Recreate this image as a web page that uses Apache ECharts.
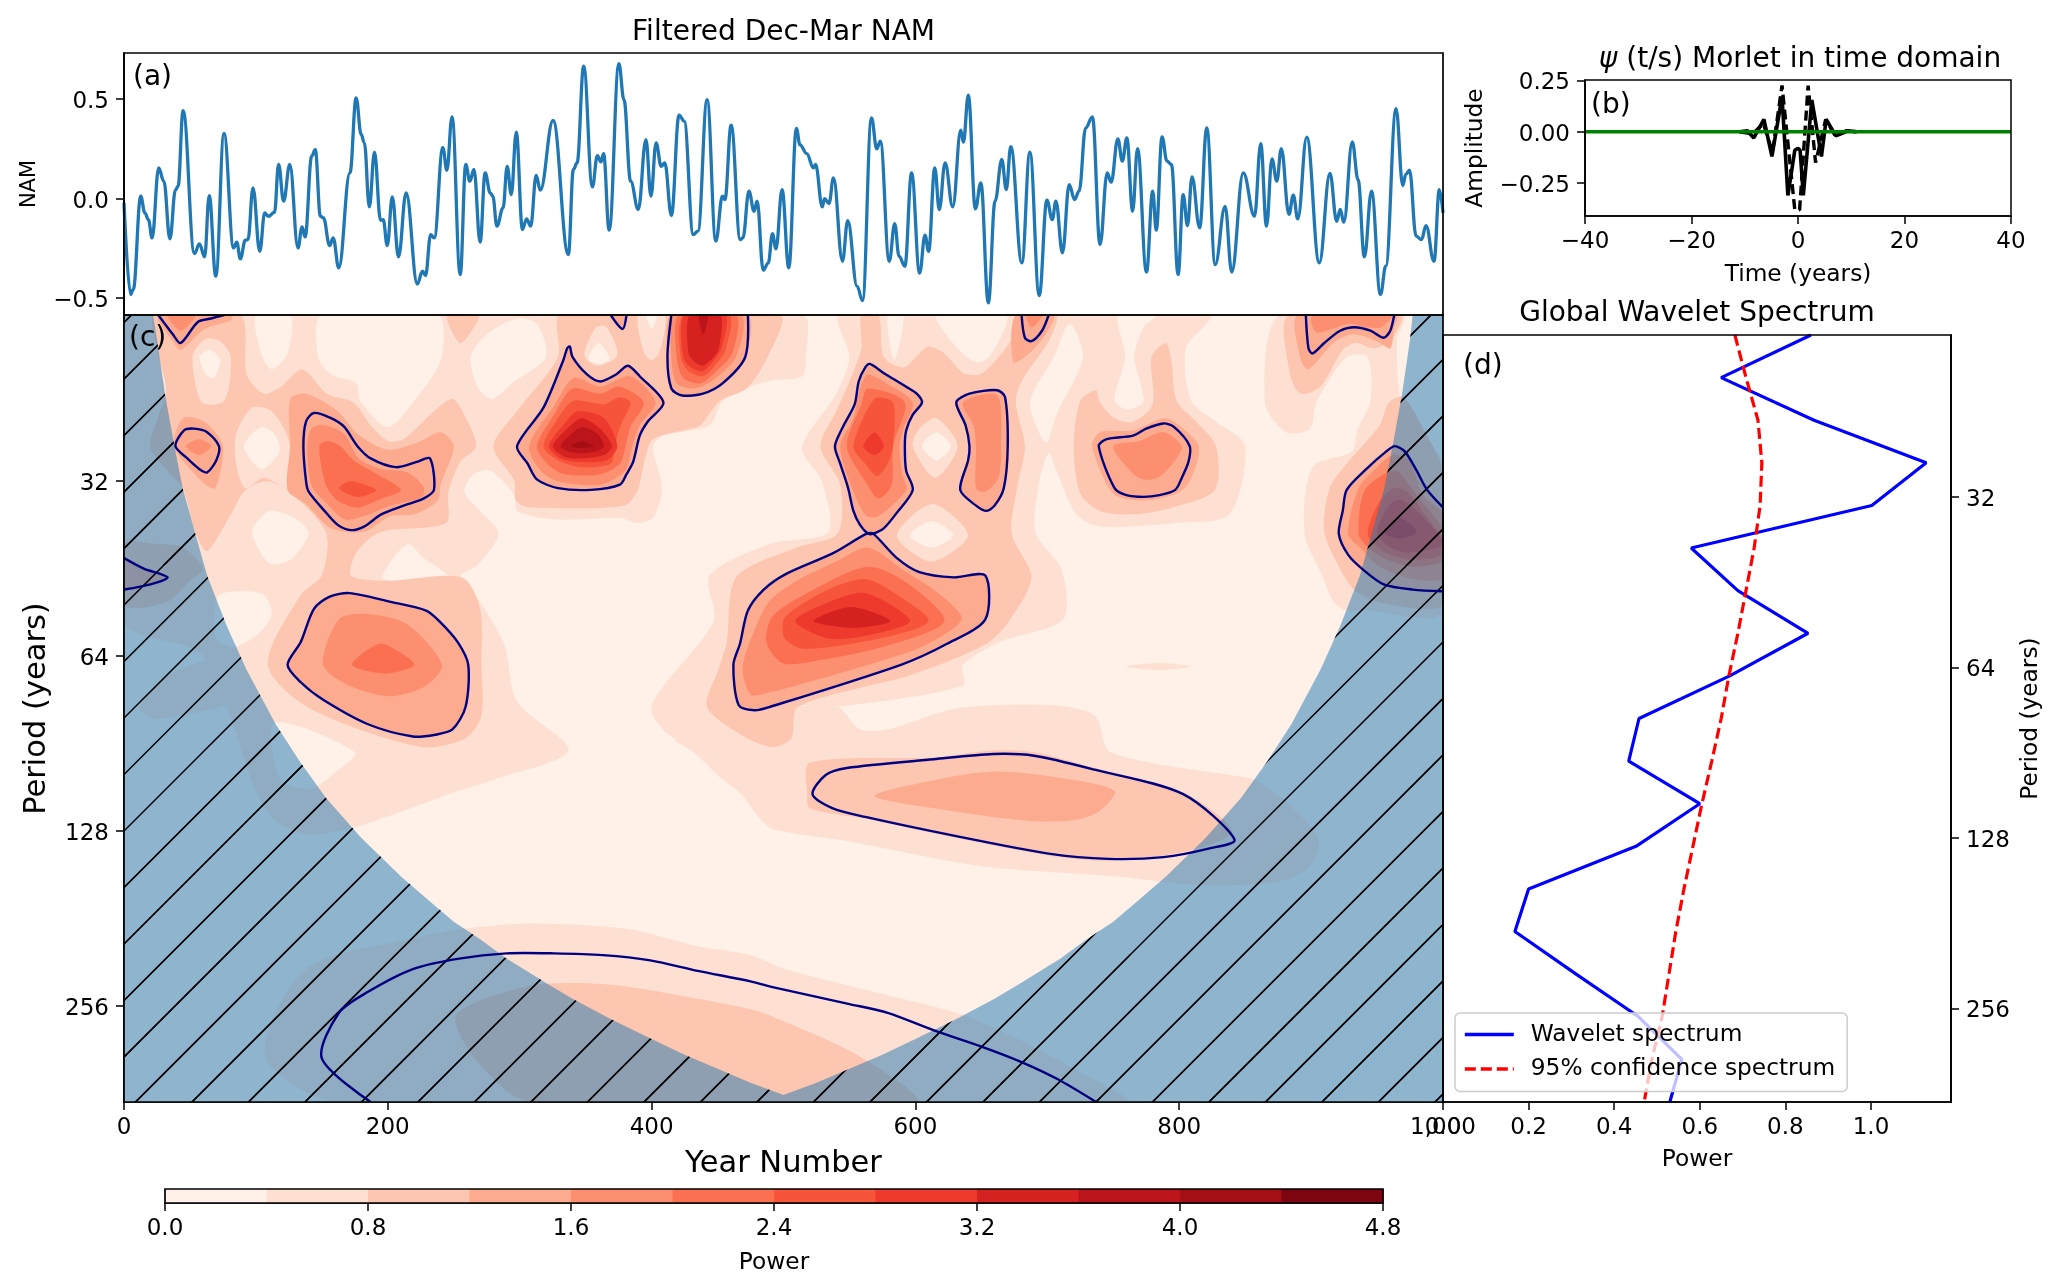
<!DOCTYPE html>
<html>
<head>
<meta charset="utf-8">
<style>html,body{margin:0;padding:0;background:#fff}#c{width:2067px;height:1288px}</style>
<script src="https://cdn.jsdelivr.net/npm/echarts@6/dist/echarts.min.js"></script>
</head>
<body>
<div id="c"></div>
<script>
// ---------- (a) filtered NAM: [year, value]
const namSeries = [[0,-.022],[5,-.482],[7,-.457],[12.7,.012],[15.8,-.072],[18.5,-.106],[21.3,-.198],[26.3,.154],[30.2,.087],[34.8,-.203],[39,.042],[41,.062],[44.8,.442],[53.4,-.276],[57.2,-.228],[61.1,-.293],[64.6,.015],[69.6,-.39],[75.8,.327],[83.1,-.248],[85.5,-.219],[88.2,-.303],[92,-.209],[94,-.206],[97.8,.054],[102.9,-.265],[106.7,-.072],[109.4,-.089],[114.1,-.069],[117.2,.171],[121,-.013],[125.7,.171],[131.9,-.248],[135,-.142],[137.3,-.193],[142.3,.213],[145,.246],[148.9,-.089],[151.2,-.097],[155.9,-.236],[158.6,-.198],[162.8,-.348],[171.3,.129],[176,.506],[179.8,.322],[182.2,.28],[186,-.042],[189.9,.233],[194.5,-.109],[196.5,-.106],[199.6,-.236],[203.4,.008],[208.1,-.293],[213.9,.028],[222.4,-.429],[226.3,-.365],[228.6,-.387],[232.5,-.181],[235.2,-.198],[241.7,.255],[244.8,.142],[248.7,.41],[254.9,-.382],[259.1,.171],[262.2,.087],[265.3,.146],[270,-.219],[273.8,.129],[277.7,.028],[279.6,.012],[282.7,-.139],[287.4,-.047],[290.5,.162],[293.6,.02],[297.4,.333],[302.1,-.156],[305.2,-.102],[308.3,-.139],[312.5,.116],[315.6,.042],[325.3,.392],[336.9,-.281],[340.7,.146],[343.5,.179],[348.5,.665],[355.1,.059],[358.9,.216],[361.6,.184],[363.6,.226],[367.8,-.159],[375.2,.677],[379,.497],[384.1,.087],[389.9,-.055],[395.7,.296],[399.5,.012],[403.4,.28],[407.3,.162],[410,.179],[415,-.085],[420.8,.419],[424.7,.389],[431.6,-.181],[435.1,-.164],[442.1,.497],[448.7,-.214],[453.7,.012],[455.6,-.005],[460.3,.369],[467.2,-.206],[469.2,-.198],[473.8,.037],[477.7,-.064],[480,-.013],[484.6,-.36],[488.5,-.323],[491.6,-.176],[494.3,-.253],[498.9,.045],[504,-.348],[509.8,.352],[512.5,.27],[517.6,.226],[522.7,.154],[524.3,.171],[529.4,-.042],[531.1,0],[534.5,-.025],[537.9,.104],[544.7,-.315],[548.7,-.111],[555.8,-.441],[559.9,-.513],[566.7,.405],[570.7,.25],[573.4,.288],[580.2,-.315],[584.3,-.126],[587.6,-.29],[592,-.34],[597.1,.129],[603.2,-.374],[607.3,-.184],[610,-.265],[614.7,.154],[618.1,-.055],[622.5,.179],[628.3,-.042],[634.4,.343],[636.4,.283],[640.1,.519],[645.5,-.052],[649.6,.079],[655.3,-.524],[660.4,-.013],[665.5,.196],[668.9,.045],[672.3,.26],[680.7,-.323],[686.8,.233],[693.9,-.487],[699.7,-.008],[703.8,-.106],[706.5,-.013],[711.5,-.273],[716.6,.07],[720.7,-.005],[724.1,.037],[729.1,.355],[734.2,.41],[740,-.231],[745.4,.129],[748.4,.082],[753.5,.3],[756.9,.188],[760.3,.305],[764.7,-.064],[768.4,.25],[775.2,-.369],[779.9,.037],[782.6,-.159],[787,.31],[790.7,.188],[794.1,.171],[799.2,-.382],[803,.02],[806.3,-.136],[809.7,.109],[815.5,-.147],[820.9,.355],[827.3,-.332],[834.8,-.039],[839.8,-.369],[848.6,.129],[857.1,-.089],[861.8,.276],[866.2,-.139],[870.3,.199],[874,.087],[877.4,.251],[883.2,-.08],[886.5,.017],[889.9,-.102],[896.7,.308],[906.2,-.323],[914.3,.126],[919.4,-.114],[922.1,-.055],[924.8,-.119],[931.2,.285],[935.6,.095],[940.4,-.293],[945.8,.037],[952.6,-.482],[956.6,-.34],[964.4,.452],[969.5,.065],[971.8,.121],[974.6,.142],[979.6,-.189],[983.7,-.206],[987.1,-.136],[993.2,-.315],[997.2,.045],[1000,-.072]];

// ---------- (b) Morlet wavelet: [time, amplitude]
const morletReal = [[-11,0],[-9.5,.005],[-8.3,-.03],[-6.4,.06],[-4.9,-.12],[-3,.17],[-1.9,-.31],[-.6,-.09],[0,-.08],[.4,-.09],[1,-.31],[2.6,.155],[4.4,-.12],[5.3,.06],[7.1,-.02],[9.4,.005],[11,0]];
const morletImag = [[-11,0],[-8.5,-.01],[-6.5,.04],[-4.8,-.1],[-3,.225],[-.6,-.38],[.3,-.38],[1.9,.225],[3.3,-.15],[5.2,.06],[7,-.02],[9,.005],[11,0]];
const morletZero = [[-40,0],[40,0]];

// ---------- (d) global spectrum, on log2(period) rows
const spectrumLogPeriod = [4.05,4.30,4.55,4.80,5.05,5.30,5.55,5.80,6.05,6.30,6.55,6.80,7.05,7.30,7.55,7.80,8.05,8.30,8.55];
const globalPower = [.86,.65,.867,1.129,1.002,.58,.689,.853,.67,.458,.434,.60,.451,.2,.168,.311,.457,.558,.53];
const confidencePower = [.682,.708,.736,.745,.741,.727,.708,.689,.668,.65,.628,.605,.584,.563,.544,.528,.512,.488,.47];

// ---------- (c) axis ranges and ticks
const periodTicks = [32,64,128,256];
const logMin = 4.05, logMax = 8.55;
const powerEdges = [0,.4,.8,1.2,1.6,2,2.4,2.8,3.2,3.6,4,4.4,4.8];
const powerColors = ['#fff0e8','#fee0d2','#fdc6b0','#fcab8f','#fc8f6f','#fb7050','#f6553c','#ee3a2c','#d52221','#bb141a','#a30f15','#7c0510'];

// ---------- (c) contour regions: [year, log2(period)] outlines
const plotExtent = [[0,logMin],[1000,logMin],[1000,logMax],[0,logMax]];
const sigTopLeft = [[26,4.05],[37,4.16],[43,4.21],[56,4.09],[66,4.07],[76,4.05]];
const sigSmall = [[39,4.80],[45.5,4.71],[53,4.70],[63,4.72],[72,4.80],[70,4.88],[63,4.95],[57,4.93],[48,4.87]];
const sigLeft = [[138,4.66],[144,4.61],[157,4.64],[167,4.69],[177,4.80],[187,4.87],[206,4.92],[222,4.89],[232,4.87],[235,5.05],[227,5.10],[212,5.14],[195,5.19],[182,5.26],[172,5.28],[162,5.25],[152,5.17],[140,5.06],[138,5.0],[136,4.80]];
const sigPeak = [[298,4.80],[318,4.58],[333,4.31],[336,4.24],[338,4.23],[340,4.29],[351,4.39],[361,4.43],[373,4.39],[382,4.34],[391,4.40],[409,4.55],[397,4.66],[391,4.74],[386,4.89],[381,4.96],[376,5.02],[354,5.05],[329,5.04],[313,4.99],[306,4.90]];
const sigTopBlob = [[415,4.05],[412,4.29],[415,4.47],[423,4.51],[439,4.50],[454,4.44],[471,4.29],[473,4.05]];
const sigTiny = [[369,4.05],[378,4.13],[381,4.05]];
const sigCentre = [[565.5,4.33],[575.6,4.38],[593,4.46],[601,4.50],[605,4.55],[598,4.62],[593,4.71],[592,4.80],[593,4.94],[598,5.05],[586,5.18],[576,5.27],[568,5.30],[564,5.30],[558,5.25],[553,5.17],[549,5.04],[543,4.90],[539,4.80],[545,4.69],[554,4.56],[557,4.43],[562,4.35]];
const sigColumn = [[631,4.55],[641,4.50],[662,4.48],[668,4.52],[670,4.80],[667,5.04],[660,5.14],[654,5.17],[646,5.14],[634,5.05],[640,4.88],[641,4.80],[638,4.68]];
const sigBig = [[563,5.30],[538,5.41],[502,5.53],[485,5.62],[473,5.74],[467,5.93],[462,6.05],[466,6.28],[478,6.31],[490,6.29],[589,6.05],[624,5.93],[653,5.79],[653,5.54],[629,5.55],[603,5.52],[586,5.44],[568,5.30]];
const sigLower = [[124,6.05],[134,5.92],[144,5.73],[156,5.66],[171,5.64],[202,5.69],[229,5.74],[239,5.80],[253,5.92],[261,6.05],[259,6.29],[249,6.42],[236,6.45],[219,6.46],[185,6.39],[151,6.25],[134,6.15]];
const sigLong = [[522,6.79],[532,6.68],[548,6.64],[614,6.59],[659,6.56],[690,6.57],[736,6.65],[803,6.79],[842,7.05],[823,7.10],[788,7.15],[746,7.16],[701,7.13],[631,7.03],[562,6.92],[537,6.87]];
const sigArch = [[187,8.55],[150,8.30],[163,8.04],[185,7.92],[219,7.79],[254,7.73],[290,7.70],[326,7.70],[363,7.71],[399,7.74],[435,7.80],[475,7.86],[490,7.89],[550,7.99],[579,8.04],[614,8.14],[649,8.23],[680,8.32],[708,8.42],[737,8.55]];
const sigRight = [[1000,5.15],[988,5.05],[980,4.94],[971,4.83],[963.5,4.80],[957,4.83],[942,4.93],[927,5.05],[924,5.17],[921,5.30],[928,5.42],[940,5.51],[955,5.59],[977,5.62],[1000,5.63]];
const sigLeftEdge = [[0,5.44],[15,5.50],[33,5.55],[20,5.59],[0,5.62]];
const sigTopRight = [[896,4.05],[898,4.24],[901,4.27],[910,4.21],[922,4.14],[933,4.12],[945,4.14],[955,4.18],[960,4.14],[963,4.05]];
const sigTopMid = [[680.5,4.05],[683,4.18],[688,4.20],[696,4.14],[701,4.05]];
const sigMid = [[739,4.80],[745,4.76],[765,4.74],[775,4.70],[788,4.67],[796,4.69],[808,4.80],[807,4.89],[802,4.98],[797,5.05],[785,5.08],[773,5.09],[760,5.08],[751,5.04]];

const level1Outer = [
 [[0,4.05],[514,4.05],[517,4.29],[514,4.40],[487,4.43],[454,4.54],[444,4.68],[409,4.74],[401,4.80],[408,5.04],[401,5.21],[389,5.24],[376,5.21],[329,5.22],[298,5.17],[296,5.08],[278,4.94],[265,4.96],[258,5.06],[270,5.17],[284,5.30],[268,5.48],[255,5.54],[263,5.61],[288,5.93],[298,6.26],[337,6.54],[283,6.70],[246,6.79],[210,6.89],[174,6.98],[141,7.02],[116,6.95],[101,6.79],[60,6.0],[0,5.8]],
 [[543,4.05],[823,4.05],[805,4.24],[809,4.54],[828,4.66],[850,4.80],[838,5.19],[798,5.24],[740,5.26],[722,5.19],[707,4.94],[701,4.84],[694,5.0],[691,5.29],[711,5.51],[712,5.79],[664,5.92],[636,6.05],[636,6.17],[541,6.29],[509,6.29],[508,6.45],[492,6.48],[475,6.44],[456,6.42],[418,6.47],[400,6.29],[447,5.80],[444,5.54],[490,5.36],[534,5.29],[529,5.0],[514,4.81],[540,4.50],[550,4.29]],
 [[876,4.05],[865,4.55],[881,4.72],[899,4.70],[904,4.55],[927,4.29],[943,4.29],[945,4.54],[935,4.71],[931,4.83],[901,4.92],[895,5.30],[909,5.55],[917,5.69],[927,5.74],[942,5.74],[1000,5.75],[1000,4.9],[970,4.6],[965,4.2],[970,4.05]],
 [[509,6.29],[541,6.29],[558,6.42],[579,6.42],[631,6.30],[701,6.28],[736,6.34],[748,6.55],[854,6.70],[861,6.72],[885,6.86],[906,7.05],[899,7.2],[875,7.29],[823,7.31],[788,7.29],[753,7.26],[649,7.2],[550,7.06],[492,6.99],[482,6.93],[468,6.79],[453,6.70],[432,6.55],[418,6.47]],
 [[138,7.79],[228,7.60],[257,7.56],[308,7.53],[381,7.56],[435,7.66],[475,7.71],[501,7.79],[579,7.94],[635,8.05],[683,8.21],[725,8.38],[760,8.55],[163,8.55],[107,8.29]],
 [[760,6.06],[785,6.04],[809,6.06],[785,6.08]],
 [[12,6.30],[26,6.36],[100,6.21],[87,6.0],[33,6.11]]
];
const level0Islands = [
 [[150,4.05],[147,4.29],[157,4.39],[176,4.44],[179,4.54],[200,4.69],[220,4.54],[240,4.31],[238,4.05]],
 [[100,4.05],[104,4.27],[112,4.36],[124,4.27],[126,4.05]],
 [[263,4.29],[268,4.46],[279,4.53],[296,4.43],[320,4.29],[313,4.10],[298,4.07],[275,4.16]],
 [[97,5.30],[110,5.47],[126,5.45],[140,5.30],[129,5.21],[111,5.17],[101,5.23]],
 [[196,5.55],[215,5.36],[227,5.44],[246,5.55],[215,5.58]],
 [[71,5.66],[88,5.63],[106,5.65],[112,5.76],[101,5.88],[83,5.95],[70,5.9]],
 [[114,6.38],[175,6.55],[161,6.66],[141,6.76],[118,6.7]],
 [[579,4.05],[584,4.31],[591,4.05]],
 [[616,4.05],[625,4.18],[639,4.29],[648,4.32],[656,4.29],[667,4.14],[669,4.05]],
 [[717,4.10],[727,4.29],[707,4.62],[699,4.78],[687,4.55],[705,4.29]],
 [[754,4.05],[759,4.29],[751,4.54],[761,4.59],[773,4.54],[766,4.29],[773,4.12],[783,4.05]]
];
const level2Regions = [
 [[23,4.05],[88,4.05],[93,4.39],[106,4.50],[119,4.46],[135,4.36],[154,4.50],[174,4.55],[187,4.68],[200,4.77],[212,4.76],[235,4.60],[249,4.53],[258,4.62],[267,4.80],[255,4.89],[246,5.06],[244,5.24],[195,5.29],[177,5.40],[172,5.54],[198,5.57],[256,5.55],[270,5.73],[271,6.05],[271,6.34],[259,6.47],[225,6.52],[141,6.30],[109,6.05],[134,5.65],[150,5.54],[153,5.29],[124,5.05],[108,5.0],[92,5.05],[81,5.19],[63,5.40],[54,5.29],[45,5.04],[38,4.98],[20,4.81],[25,4.65],[32,4.48],[25,4.24]],
 [[331,4.05],[329,4.29],[298,4.60],[280,4.80],[296,5.0],[297,5.11],[308,5.15],[379,5.14],[389,5.06],[392,4.98],[395,4.87],[401,4.76],[429,4.70],[437,4.68],[452,4.54],[472,4.47],[488,4.29],[497,4.05]],
 [[245,4.05],[254,4.21],[260,4.18],[269,4.05]],
 [[559,4.05],[572,4.05],[576,4.29],[591,4.35],[603,4.27],[610,4.23],[622,4.27],[636,4.38],[649,4.39],[662,4.30],[672,4.20],[679,4.05],[707,4.05],[701,4.20],[682,4.41],[676,4.54],[683,4.80],[677,5.04],[673,5.30],[688,5.55],[672,5.79],[654,5.93],[596,6.11],[511,6.29],[506,6.47],[492,6.52],[470,6.46],[442,6.29],[451,6.07],[457,5.92],[464,5.55],[510,5.38],[541,5.30],[543,5.02],[528,4.80],[540,4.60],[550,4.43],[559,4.24]],
 [[720,4.80],[725,4.54],[737,4.48],[740,4.55],[751,4.64],[765,4.66],[780,4.56],[779,4.29],[790,4.21],[794,4.31],[798,4.54],[813,4.66],[828,4.80],[827,5.05],[795,5.15],[765,5.19],[740,5.17],[725,5.07]],
 [[883,4.05],[884,4.39],[892,4.50],[907,4.46],[924,4.25],[934,4.21],[947,4.24],[960,4.20],[968,4.05]],
 [[959,4.55],[952,4.68],[927,4.90],[914,5.04],[910,5.29],[924,5.53],[934,5.63],[955,5.70],[1000,5.70],[1000,4.95],[985,4.7],[970,4.52]],
 [[520,6.61],[614,6.58],[659,6.54],[690,6.55],[736,6.64],[803,6.78],[840,7.0],[809,7.11],[746,7.17],[701,7.14],[631,7.04],[562,6.93],[520,6.87],[518,6.79]],
 [[252,8.05],[305,7.89],[344,7.87],[381,7.89],[435,7.96],[475,8.02],[488,8.05],[558,8.29],[600,8.55],[308,8.55],[266,8.30]],
 [[0,5.36],[25,5.36],[45,5.38],[60,5.50],[50,5.57],[33,5.69],[0,5.71]]
];
const level1Rings = [
 [[52,4.29],[59,4.55],[76,4.54],[81,4.29],[73,4.20],[61,4.19]],
 [[85,4.73],[97,4.58],[112,4.60],[125,4.77],[126,5.04],[106,4.98],[92,5.04],[85,4.90]],
 [[349,4.28],[358,4.12],[366,4.12],[374,4.28],[359,4.34]],
 [[390,4.05],[394,4.26],[400,4.31],[406,4.26],[410,4.05]],
 [[598,4.80],[615,4.98],[632,4.80],[616,4.64],[603,4.70]],
 [[586,5.31],[612,5.46],[640,5.31],[613,5.13]]
];
const level0Cores = [
 [[57,4.29],[62,4.39],[68,4.41],[73,4.31],[66,4.25],[59,4.27]],
 [[91,4.80],[104,4.93],[118,4.83],[114,4.73],[104,4.69]],
 [[352,4.30],[360,4.21],[368,4.30],[360,4.33]],
 [[396,4.05],[400,4.13],[404,4.05]],
 [[605,4.80],[616,4.88],[627,4.80],[616,4.72]],
 [[596,5.31],[612,5.38],[629,5.31],[612,5.23]]
];
const level3Regions = [
 [[26,4.05],[37,4.20],[43,4.25],[61,4.13],[81,4.08],[82,4.05]],
 [[38,4.80],[45,4.64],[61,4.66],[75,4.80],[69,5.04],[59,5.0]],
 [[126,4.80],[126,4.53],[138,4.50],[162,4.60],[177,4.73],[200,4.82],[222,4.78],[240,4.72],[250,4.80],[240,5.02],[238,5.11],[220,5.19],[202,5.20],[182,5.29],[157,5.27],[138,5.13],[124,5.05]],
 [[734,4.80],[740,4.72],[765,4.71],[788,4.64],[798,4.67],[815,4.80],[808,5.0],[798,5.07],[773,5.11],[750,5.07]],
 [[890,4.05],[892,4.30],[898,4.36],[917,4.21],[932,4.16],[950,4.20],[960,4.24],[963,4.12],[965,4.05]],
 [[676,4.05],[674,4.32],[683,4.29],[697,4.18],[705,4.05]],
 sigTopLeft, sigSmall, sigLeft, sigPeak, sigTopBlob, sigTiny, sigCentre, sigColumn, sigBig, sigLower, sigRight, sigLeftEdge, sigTopRight, sigTopMid, sigMid,
 [[569,6.80],[614,6.71],[659,6.66],[704,6.69],[751,6.77],[739,6.89],[718,6.94],[683,6.94],[614,6.87]]
];
const level4Regions = [
 [[33,4.05],[43,4.14],[54,4.05]],
 [[47,4.80],[57,4.76],[66,4.80],[57,4.85]],
 [[139,4.80],[142,4.70],[152,4.68],[167,4.73],[178,4.87],[195,4.93],[215,4.95],[227,5.03],[226,5.09],[202,5.14],[182,5.20],[168,5.22],[154,5.13],[142,5.02]],
 [[307,4.80],[326,4.57],[341,4.41],[361,4.46],[384,4.40],[403,4.55],[391,4.68],[385,4.81],[380,4.94],[361,5.02],[329,5.0],[316,4.94]],
 [[418,4.05],[415,4.29],[419,4.44],[432,4.47],[447,4.42],[464,4.29],[468,4.05]],
 [[543,4.80],[553,4.64],[558,4.47],[564,4.39],[578,4.44],[598,4.55],[591,4.70],[588,4.80],[590,4.96],[593,5.05],[572,5.20],[563,5.20],[553,5.06]],
 [[636,4.55],[662,4.51],[665,4.80],[663,4.98],[653,5.06],[646,5.04],[646,4.80],[644,4.68]],
 [[564,5.38],[591,5.51],[619,5.65],[635,5.79],[607,5.94],[569,6.04],[509,6.17],[488,6.21],[475,6.22],[469,6.06],[481,5.80],[490,5.68],[510,5.57],[540,5.46]],
 [[151,6.05],[163,5.79],[185,5.76],[215,5.82],[241,6.05],[229,6.17],[202,6.23],[171,6.17]],
 [[928,5.30],[936,5.04],[950,4.92],[962,4.85],[974,4.88],[985,5.08],[1000,5.19],[1000,5.55],[977,5.56],[952,5.49],[937,5.38]],
 [[901,4.05],[904,4.15],[929,4.10],[942,4.12],[953,4.12],[961,4.05]],
 [[684,4.05],[688,4.12],[693,4.09],[696,4.05]],
 [[750,4.80],[770,4.77],[788,4.72],[802,4.80],[796,4.89],[784,4.98],[773,4.99],[764,4.95]]
];
const level5Regions = [
 [[148,4.80],[154,4.77],[164,4.80],[174,4.88],[192,4.96],[210,5.05],[195,5.10],[177,5.15],[162,5.11],[153,5.02]],
 [[313,4.80],[326,4.62],[340,4.47],[361,4.50],[376,4.46],[394,4.55],[384,4.69],[380,4.81],[376,4.90],[361,4.96],[334,4.96],[321,4.90]],
 [[421,4.05],[419,4.29],[424,4.41],[437,4.44],[449,4.37],[461,4.27],[464,4.05]],
 [[548,4.80],[559,4.56],[564,4.47],[592,4.55],[583,4.80],[582,5.02],[572,5.10],[562,5.0]],
 [[564,5.49],[593,5.58],[622,5.80],[579,5.94],[523,6.03],[499,6.04],[487,5.92],[492,5.77],[523,5.62]],
 [[173,6.05],[193,5.93],[205,5.96],[220,6.05],[198,6.10]],
 [[936,5.30],[940,5.06],[955,4.96],[965,4.94],[980,5.08],[1000,5.28],[1000,5.45],[977,5.49],[955,5.44],[942,5.37]]
];
const level6Regions = [
 [[163,5.04],[172,5.0],[191,5.05],[177,5.09]],
 [[318,4.80],[329,4.64],[341,4.54],[364,4.56],[376,4.52],[384,4.55],[376,4.69],[372,4.81],[369,4.90],[347,4.92],[329,4.88]],
 [[424,4.05],[422,4.29],[428,4.37],[439,4.40],[449,4.33],[456,4.25],[459,4.05]],
 [[553,4.80],[569,4.53],[583,4.55],[583,4.80],[579,4.90],[571,4.97],[562,4.90]],
 [[610,5.80],[579,5.89],[516,5.96],[501,5.90],[501,5.78],[534,5.62],[562,5.56],[586,5.65]],
 [[943,5.31],[950,5.14],[962,5.04],[973,5.06],[988,5.21],[1000,5.34],[1000,5.42],[977,5.45],[957,5.41]]
];
const level7Regions = [
 [[322,4.80],[334,4.67],[344,4.60],[364,4.64],[374,4.80],[366,4.88],[346,4.89],[331,4.87]],
 [[425,4.05],[424,4.29],[430,4.35],[439,4.37],[449,4.29],[453,4.24],[456,4.05]],
 [[560.5,4.80],[569,4.72],[576,4.80],[569,4.85]],
 [[596,5.80],[565,5.88],[534,5.90],[509,5.80],[535,5.69],[562,5.64]],
 [[950,5.29],[960,5.13],[970,5.11],[993,5.27],[1000,5.36],[975,5.41],[958,5.37]]
];
const level8Regions = [
 [[325,4.80],[336,4.70],[347,4.64],[361,4.70],[370,4.80],[364,4.85],[347,4.87],[334,4.86]],
 [[429,4.05],[428,4.27],[433,4.32],[439,4.34],[447,4.29],[451,4.24],[452,4.05]],
 [[581,5.80],[553,5.84],[523,5.80],[551,5.72]],
 [[955,5.29],[967,5.21],[980,5.29],[967,5.33]]
];
const level9Regions = [
 [[331,4.80],[339,4.73],[348,4.69],[359,4.73],[364,4.80],[358,4.83],[347,4.84],[337,4.83]],
 [[436,4.05],[439,4.16],[443,4.05]]
];
const level10Regions = [
 [[339,4.80],[347,4.77],[356,4.80],[347,4.81]]
];
const coiCurve = [[22,4.05],[25,4.19],[31,4.50],[38,4.79],[44.5,5.04],[54,5.30],[63,5.54],[78,5.83],[93,6.08],[115,6.39],[133,6.60],[153,6.81],[180,7.04],[210,7.26],[230,7.39],[250,7.52],[270,7.62],[290,7.73],[320,7.87],[340,7.96],[370,8.08],[400,8.19],[425,8.28],[450,8.36],[475,8.44],[500,8.51],[525,8.44],[550,8.36],[575,8.28],[600,8.19],[630,8.08],[660,7.96],[680,7.87],[710,7.73],[730,7.62],[750,7.52],[770,7.39],[790,7.26],[820,7.04],[847,6.81],[867,6.60],[885,6.39],[907,6.08],[922,5.83],[937,5.54],[946,5.30],[955.5,5.04],[962,4.79],[969,4.50],[975,4.19],[977,4.05]];

// ---------- assembling
const layerOrder = [[0,[plotExtent]],[1,level1Outer],[0,level0Islands],[2,level2Regions],[1,level1Rings],[0,level0Cores],[3,level3Regions],[4,level4Regions],[5,level5Regions],[6,level6Regions],[7,level7Regions],[8,level8Regions],[9,level9Regions],[10,level10Regions]];
const patches = [];
layerOrder.forEach(([lv, list]) => list.forEach(pts => patches.push([lv, pts])));
const closedLines = [sigSmall, sigLeft, sigPeak, sigCentre, sigColumn, sigBig, sigLower, sigLong, sigMid];
const openLines = [sigTopLeft, sigTopBlob, sigTiny, sigArch, sigRight, sigLeftEdge, sigTopRight, sigTopMid];
const coiRegion = [[0,logMin]].concat(coiCurve, [[1000,logMin],[1000,logMax],[0,logMax]]);

const FONT = 'DejaVu Sans';
const minusFmt = (d) => (v) => v.toFixed(d).replace('-', '\u2212');
const lineAxis = {show:true, onZero:false, lineStyle:{color:'#000', width:1.7}};
const tick = {show:true, length:8, lineStyle:{color:'#000', width:1.5}};
const lab = {color:'#000', fontFamily:FONT, fontSize:23, margin:15};
const ylab = Object.assign({}, lab, {verticalAlign:'top', lineHeight:6});
const axName = (size) => ({color:'#000', fontFamily:FONT, fontSize:size});
const noSplit = {show:false};

// 45 degree hatch texture
function hatchTile(){
  const s = 565, step = 56.5, c = document.createElement('canvas');
  c.width = s; c.height = s;
  const g = c.getContext('2d');
  g.strokeStyle = '#000'; g.lineWidth = 1.5;
  for (let k = -2; k <= 22; k++) {
    const o = 51 - 56.5 + k*step;
    g.beginPath(); g.moveTo(o+10, -10); g.lineTo(o-s-10, s+10); g.stroke();
    g.beginPath(); g.moveTo(o+s+10, -10); g.lineTo(o-10, s+10); g.stroke();
  }
  return c;
}
const hatch = hatchTile();
const titleStyle = {fontFamily:FONT,fontSize:28,fontWeight:'normal',color:'#000'};

const option = {
  animation:false,
  backgroundColor:'#fff',
  textStyle:{fontFamily:FONT},
  title:[
    {text:'Filtered Dec-Mar NAM', left:778.5, top:27.5, textAlign:'center', textVerticalAlign:'middle', textStyle:titleStyle},
    {text:'{i|\u03c8} (t/s) Morlet in time domain', left:1795, top:54.5, textAlign:'center', textVerticalAlign:'middle', textStyle:Object.assign({},titleStyle,{rich:{i:{fontFamily:FONT,fontSize:28,fontStyle:'italic',color:'#000'}}})},
    {text:'Global Wavelet Spectrum', left:1692, top:309, textAlign:'center', textVerticalAlign:'middle', textStyle:titleStyle}
  ],
  grid:[
    {left:124, top:53, width:1319, height:262, show:true, borderColor:'#000', borderWidth:1.7, z:10, backgroundColor:'transparent'},
    {left:124, top:315, width:1319, height:787, show:true, borderColor:'#000', borderWidth:1.7, z:10, backgroundColor:'transparent'},
    {left:1585, top:80, width:426, height:136, show:true, borderColor:'#000', borderWidth:1.5, z:10, backgroundColor:'transparent'},
    {left:1443, top:335, width:508, height:767, show:true, borderColor:'#000', borderWidth:1.7, z:10, backgroundColor:'transparent'},
    {left:165, top:1189, width:1218, height:14, show:true, borderColor:'#000', borderWidth:1.7, z:10, backgroundColor:'transparent'}
  ],
  xAxis:[
    {gridIndex:0, type:'value', min:0, max:1000, show:false, splitLine:noSplit},
    {gridIndex:1, type:'value', min:0, max:1000, interval:200, axisLine:lineAxis, axisTick:tick, axisLabel:lab, splitLine:noSplit, name:'Year Number', nameLocation:'middle', nameGap:47, nameTextStyle:axName(30.5)},
    {gridIndex:2, type:'value', min:-40, max:40, interval:20, axisLine:lineAxis, axisTick:tick, axisLabel:Object.assign({},lab,{formatter:minusFmt(0)}), splitLine:noSplit, name:'Time (years)', nameLocation:'middle', nameGap:47, nameTextStyle:axName(23.3)},
    {gridIndex:3, type:'value', min:0, max:1.187, axisLine:lineAxis, axisTick:Object.assign({},tick,{customValues:[0,.2,.4,.6,.8,1]}), axisLabel:Object.assign({},lab,{customValues:[0,.2,.4,.6,.8,1],formatter:minusFmt(1)}), splitLine:noSplit, name:'Power', nameLocation:'middle', nameGap:46, nameTextStyle:axName(23.3)},
    {gridIndex:4, type:'value', min:0, max:4.8, axisLine:lineAxis, axisTick:Object.assign({},tick,{customValues:[0,.8,1.6,2.4,3.2,4,4.8]}), axisLabel:Object.assign({},lab,{customValues:[0,.8,1.6,2.4,3.2,4,4.8],formatter:minusFmt(1)}), splitLine:noSplit, name:'Power', nameLocation:'middle', nameGap:48, nameTextStyle:axName(23.3)}
  ],
  yAxis:[
    {gridIndex:0, type:'value', min:-.585, max:.731, axisLine:lineAxis, axisTick:Object.assign({},tick,{customValues:[-.5,0,.5]}), axisLabel:Object.assign({},ylab,{customValues:[-.5,0,.5],formatter:minusFmt(1)}), splitLine:noSplit, name:'NAM', nameLocation:'middle', nameGap:84, nameRotate:90, nameTextStyle:axName(21)},
    {gridIndex:1, type:'value', inverse:true, min:logMin, max:logMax, axisLine:lineAxis, axisTick:Object.assign({},tick,{customValues:periodTicks.map(Math.log2)}), axisLabel:Object.assign({},ylab,{customValues:periodTicks.map(Math.log2),formatter:(v)=>String(Math.round(Math.pow(2,v)))}), splitLine:noSplit, name:'Period (years)', nameLocation:'middle', nameGap:71, nameRotate:90, nameTextStyle:axName(30.5)},
    {gridIndex:2, type:'value', min:-.41, max:.252, axisLine:lineAxis, axisTick:Object.assign({},tick,{customValues:[-.25,0,.25]}), axisLabel:Object.assign({},ylab,{customValues:[-.25,0,.25],formatter:minusFmt(2)}), splitLine:noSplit, name:'Amplitude', nameLocation:'middle', nameGap:98, nameRotate:90, nameTextStyle:axName(23.3)},
    {gridIndex:3, type:'value', position:'right', inverse:true, min:logMin, max:logMax, axisLine:lineAxis, axisTick:Object.assign({},tick,{customValues:periodTicks.map(Math.log2)}), axisLabel:Object.assign({},ylab,{customValues:periodTicks.map(Math.log2),formatter:(v)=>String(Math.round(Math.pow(2,v)))}), splitLine:noSplit, name:'Period (years)', nameLocation:'middle', nameGap:68, nameRotate:90, nameTextStyle:axName(23.3)},
    {gridIndex:4, type:'value', min:0, max:1, show:false, splitLine:noSplit}
  ],
  legend:{
    show:true, orient:'vertical', left:1455, top:1013, data:['Wavelet spectrum','95% confidence spectrum'],
    backgroundColor:'rgba(255,255,255,0.75)', borderColor:'#ccc', borderWidth:1.5, borderRadius:5, padding:[10,12,11,8],
    itemWidth:49, itemHeight:8, itemGap:11.5, itemStyle:{opacity:0}, lineStyle:{width:3.6},
    textStyle:{fontFamily:FONT,fontSize:23.3,color:'#000',padding:[0,0,0,12]}, z:20
  },
  graphic:[
    {type:'text', left:133, top:64, z:30, style:{text:'(a)', fontFamily:FONT, fontSize:28, fill:'#000'}},
    {type:'text', left:1591, top:92, z:30, style:{text:'(b)', fontFamily:FONT, fontSize:28, fill:'#000'}},
    {type:'text', left:129, top:325, z:30, style:{text:'(c)', fontFamily:FONT, fontSize:28, fill:'#000'}},
    {type:'text', left:1463, top:353, z:30, style:{text:'(d)', fontFamily:FONT, fontSize:28, fill:'#000'}}
  ],
  series:[
    {type:'line', xAxisIndex:0, yAxisIndex:0, data:namSeries, showSymbol:false, smooth:.4, smoothMonotone:'x', lineStyle:{color:'#1f77b4', width:3.3}, silent:true},
    {type:'custom', xAxisIndex:1, yAxisIndex:1, clip:true, silent:true, z:2, data:patches.map((_,i)=>[i]), encode:{x:-1,y:-1},
      renderItem:(params, api)=>{
        const p = patches[params.dataIndex];
        return {type:'polygon', shape:{points:p[1].map(c=>api.coord(c)), smooth:p[1]===plotExtent?0:.28}, style:{fill:powerColors[p[0]]}};
      }},
    {type:'custom', xAxisIndex:1, yAxisIndex:1, clip:true, silent:true, z:3, data:[[0]], encode:{x:-1,y:-1},
      renderItem:(params, api)=>{
        const pts = coiRegion.map(c=>api.coord(c));
        return {type:'group', children:[
          {type:'polygon', shape:{points:pts}, style:{fill:'rgba(31,119,180,0.5)'}},
          {type:'polygon', shape:{points:pts}, style:{fill:{image:hatch, repeat:'repeat'}}}
        ]};
      }},
    {type:'custom', xAxisIndex:1, yAxisIndex:1, clip:true, silent:true, z:4, data:closedLines.map((_,i)=>[i]), encode:{x:-1,y:-1},
      renderItem:(params, api)=>({type:'polygon', shape:{points:closedLines[params.dataIndex].map(c=>api.coord(c)), smooth:.28}, style:{fill:'none', stroke:'#000080', lineWidth:2.4}})},
    {type:'custom', xAxisIndex:1, yAxisIndex:1, clip:true, silent:true, z:4, data:openLines.map((_,i)=>[i]), encode:{x:-1,y:-1},
      renderItem:(params, api)=>({type:'polyline', shape:{points:openLines[params.dataIndex].map(c=>api.coord(c)), smooth:.28}, style:{fill:'none', stroke:'#000080', lineWidth:2.4}})},
    {type:'line', xAxisIndex:2, yAxisIndex:2, data:morletReal, showSymbol:false, lineStyle:{color:'#000', width:3.6}, silent:true},
    {type:'line', xAxisIndex:2, yAxisIndex:2, data:morletImag, showSymbol:false, lineStyle:{color:'#000', width:3.4, type:[10,5]}, silent:true},
    {type:'line', xAxisIndex:2, yAxisIndex:2, data:morletZero, showSymbol:false, lineStyle:{color:'#008000', width:3.6}, silent:true},
    {name:'Wavelet spectrum', type:'line', xAxisIndex:3, yAxisIndex:3, data:globalPower.map((v,i)=>[v,spectrumLogPeriod[i]]), symbol:'none', itemStyle:{color:'#0000ff'}, lineStyle:{color:'#0000ff', width:3.2}, silent:true},
    {name:'95% confidence spectrum', type:'line', xAxisIndex:3, yAxisIndex:3, data:confidencePower.map((v,i)=>[v,spectrumLogPeriod[i]]), symbol:'none', itemStyle:{color:'#ff0000'}, lineStyle:{color:'#ff0000', width:3.2, type:[11,5]}, silent:true},
    {type:'custom', xAxisIndex:4, yAxisIndex:4, silent:true, data:powerColors.map((_,i)=>[i]), encode:{x:-1,y:-1},
      renderItem:(params, api)=>{
        const i = params.dataIndex;
        const a = api.coord([powerEdges[i],1]), b = api.coord([powerEdges[i+1],0]);
        return {type:'rect', shape:{x:a[0],y:a[1],width:b[0]-a[0]+.5,height:b[1]-a[1]}, style:{fill:powerColors[i]}};
      }}
  ]
};
echarts.init(document.getElementById('c'), null, {renderer:'canvas', devicePixelRatio:1}).setOption(option);
</script>
</body>
</html>
